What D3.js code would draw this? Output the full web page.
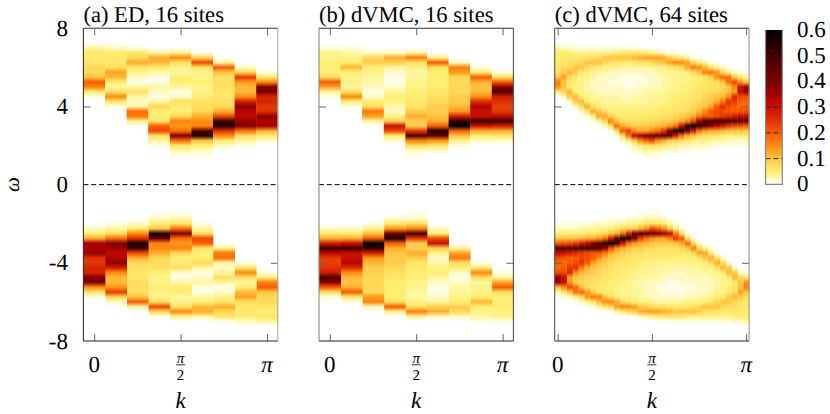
<!DOCTYPE html>
<html><head><meta charset="utf-8">
<script src="https://cdn.jsdelivr.net/npm/d3@7"></script>
<style>
html,body{margin:0;padding:0;background:#fff}
svg{display:block}
text{font-family:"Liberation Serif",serif;fill:#000;text-rendering:geometricPrecision}
</style></head><body>
<svg id="c" width="830" height="414"></svg>
<script>
// energy of each stored row (upper band); lower band is the k -> pi-k, w -> -w image seen in the picture
const omegaRows=[7.25,7,6.75,6.5,6.25,6,5.75,5.5,5.25,5,4.75,4.5,4.25,4,3.75,3.5,3.25,3,2.75,2.5,2.25,2,1.75,1.5,1.25];
// spectral weight x100, one list per k column, top row first, trailing zeros left out
const edSixteen=[
[0,3,6,5,6,8,8,10,20,16,5,1],
[0,2,5,6,6,7,13,11,5,3,7,15,6,1],
[0,1,6,8,12,6,4,2,1,3,7,3,2,3,18,17,4],
[0,0,3,12,11,5,3,1,1,3,2,1,3,8,5,5,6,20,22,7,3,1],
[0,0,4,15,7,4,3,5,5,3,1,2,7,5,5,8,16,14,18,40,18,6,3,1],
[0,0,1,8,22,7,4,4,5,4,4,5,7,7,8,12,15,16,45,55,10,5,2,1],
[0,0,0,0,3,20,10,7,7,7,6,6,7,8,12,22,50,55,25,15,5,2],
[0,0,0,0,0,2,8,24,14,11,11,15,28,38,33,32,36,40,18,7,3,1],
[0,0,0,0,0,0,1,6,15,40,40,27,27,24,25,38,34,35,12,5,2]];
const dvmcSixteen=[
[0,1,4,4,5,5,5,7,20,13,3,1],
[0,1,3,4,5,11,5,4,4,3,7,15,5,1],
[0,0,2,8,9,5,4,3,3,2,1,2,5,7,17,13,3],
[0,0,2,12,9,3,2,1,1,2,3,5,4,3,2,4,9,30,22,5,2],
[0,0,3,16,7,4,3,3,4,4,5,5,6,6,9,12,9,9,24,48,16,7,2,1],
[0,0,0,4,20,7,5,5,5,5,6,7,8,9,9,10,12,20,55,42,14,6,2],
[0,0,0,0,2,16,14,8,8,8,8,9,9,11,14,28,52,60,20,10,4,1],
[0,0,0,0,0,1,5,20,12,10,11,15,26,33,30,30,50,30,12,5,2],
[0,0,0,0,0,0,1,7,20,38,48,28,25,23,24,32,50,28,12,6,2]];
const dvmcSixtyFour=[
[0,3,5,5,6,6,7,10,17,15,5,1],
[0,2,5,6,6,7,9,13,10,10,8,2],
[0,2,5,6,7,8,11,8,6,6,11,9,2],
[0,1,4,6,7,10,9,6,5,4,5,11,9,2],
[0,1,4,6,8,10,6,4,4,4,4,5,11,7,2],
[0,1,4,6,10,8,5,4,3,3,3,4,6,12,6,1],
[0,1,4,7,10,6,4,3,2,2,3,3,4,7,12,4,1],
[0,1,4,7,10,5,3,2,2,2,2,3,4,5,10,12,3],
[0,1,4,9,8,4,3,2,2,2,2,3,3,4,6,13,8,2],
[0,1,4,10,7,4,2,2,1,2,2,3,3,4,5,8,16,7,1],
[0,1,5,10,6,4,2,2,1,2,2,3,3,4,5,6,10,18,6,1],
[0,1,6,10,6,3,2,1,1,2,2,2,3,4,5,6,8,13,20,6,2],
[0,1,6,10,5,3,2,1,1,1,2,2,3,4,5,6,7,10,24,17,4,1],
[0,1,6,11,6,3,2,1,1,1,2,3,3,4,5,6,7,9,16,30,9,3,1],
[0,0,6,12,7,3,2,1,1,2,2,3,3,4,5,6,7,9,13,35,15,5,2],
[0,0,5,13,7,3,2,2,1,2,3,3,3,4,5,6,7,9,13,40,19,6,3,1],
[0,0,4,13,8,4,2,2,2,2,3,3,4,4,5,6,8,10,15,42,22,7,3,1],
[0,0,3,13,9,4,3,2,2,2,3,4,4,4,6,6,8,11,18,44,15,6,3,1],
[0,0,2,12,10,4,3,3,3,3,3,4,4,5,6,7,9,12,24,46,12,5,2,1],
[0,0,1,9,13,5,4,3,3,3,4,4,5,5,6,7,9,14,40,42,9,4,2],
[0,0,1,7,15,6,4,4,4,4,4,5,5,6,7,8,10,18,55,28,8,4,2],
[0,0,0,5,15,8,4,4,4,4,5,5,6,6,7,9,12,30,58,18,7,3,1],
[0,0,0,3,13,12,5,4,4,5,5,6,6,7,8,10,15,52,42,12,6,3,1],
[0,0,0,1,8,16,7,5,5,5,6,6,7,8,9,12,22,58,28,10,5,2,1],
[0,0,0,0,5,15,10,5,5,6,6,7,8,9,11,17,36,55,18,8,4,2,1],
[0,0,0,0,3,11,16,6,6,6,7,8,9,10,15,20,48,44,14,7,4,2],
[0,0,0,0,1,6,17,9,6,7,7,9,10,13,20,20,48,38,12,6,3,2],
[0,0,0,0,0,4,14,14,7,7,8,10,12,20,22,22,50,32,12,6,3,1],
[0,0,0,0,0,2,8,19,10,8,9,11,17,25,22,24,50,28,11,5,3,1],
[0,0,0,0,0,1,4,18,18,9,10,15,25,22,20,26,48,24,10,5,2,1],
[0,0,0,0,0,0,2,10,22,15,13,26,24,20,20,28,46,22,10,5,2,1],
[0,0,0,0,0,0,1,6,15,30,30,22,20,19,21,30,45,21,10,5,2,1],
[0,0,0,0,0,0,0,3,10,36,38,22,19,19,22,32,46,20,9,5,2,1]];
const panelTitles=["(a) ED, 16 sites","(b) dVMC, 16 sites","(c) dVMC, 64 sites"];
const omegaTicks=[8,4,0,-4,-8];
const colourTicks=[0,0.1,0.2,0.3,0.4,0.5,0.6];
const colourStops=[0,0.012,0.03,0.05,0.08,0.11,0.15,0.2,0.25,0.3,0.35,0.4,0.5,0.6];
const colourValues=["#ffffff","#fffde0","#fff6a0","#ffee72","#ffd858","#ffb838","#ff8c10","#f85c00","#e03000","#c81000","#a80000","#800000","#400000","#000000"];

const svg=d3.select("#c");
const defs=svg.append("defs");
const colour=d3.scaleLinear().domain(colourStops).range(colourValues).clamp(true);
const yScale=d3.scaleLinear().domain([8,-8]).range([28.3,341]);
const panelLefts=[83.4,319,554.7], panelWidth=194.4;
const sideColours=[["#333","#aaa"],["#888","#555"],["#555","#999"]];
const kTicks=[0,Math.PI/2,Math.PI];

[edSixteen,dvmcSixteen,dvmcSixtyFour].forEach((matrix,p)=>{
  const left=panelLefts[p], n=matrix.length, half=Math.PI/(n-1)/2;
  const x=d3.scaleLinear().domain([-half,Math.PI+half]).range([left,left+panelWidth]);
  const dk=Math.PI/(n-1);
  const g=svg.append("g");
  const bands=[
    {id:"u",cols:matrix.map((c,i)=>({i,c})),sign:1},
    {id:"l",cols:matrix.map((c,i)=>({i:n-1-i,c})),sign:-1}
  ];
  bands.forEach(b=>{
    const y0=yScale(b.sign*7.5), y1=yScale(b.sign*1);
    const grads=defs.selectAll(null).data(b.cols).enter().append("linearGradient")
      .attr("id",d=>`g${p}${b.id}${d.i}`).attr("gradientUnits","userSpaceOnUse")
      .attr("x1",0).attr("x2",0).attr("y1",y0).attr("y2",y1);
    grads.selectAll("stop").data(d=>omegaRows.map((w,r)=>({w,v:(d.c[r]||0)/100}))).enter().append("stop")
      .attr("offset",d=>(yScale(b.sign*d.w)-y0)/(y1-y0))
      .attr("stop-color",d=>colour(d.v));
    g.selectAll(null).data(b.cols).enter().append("rect")
      .attr("x",d=>x((d.i-0.5)*dk)).attr("width",x(dk)-x(0)+0.4)
      .attr("y",Math.min(y0,y1)).attr("height",Math.abs(y1-y0))
      .attr("fill",d=>`url(#g${p}${b.id}${d.i})`);
  });
  g.append("line").attr("x1",left).attr("x2",left+panelWidth).attr("y1",yScale(0)).attr("y2",yScale(0))
    .attr("stroke","#000").attr("stroke-width",1).attr("stroke-dasharray","5,2.8");
  const tickCol="#666";
  const xb=g.append("g").attr("transform",`translate(0,${yScale(-8)})`)
    .call(d3.axisBottom(x).tickValues(kTicks).tickSize(-7).tickFormat(""));
  const xt=g.append("g").attr("transform",`translate(0,${yScale(8)})`)
    .call(d3.axisTop(x).tickValues(kTicks).tickSize(-7).tickFormat(""));
  const yl=g.append("g").attr("transform",`translate(${left},0)`)
    .call(d3.axisLeft(yScale).tickValues([4,-4]).tickSize(-7).tickFormat(""));
  const yr=g.append("g").attr("transform",`translate(${left+panelWidth},0)`)
    .call(d3.axisRight(yScale).tickValues([4,-4]).tickSize(-7).tickFormat(""));
  [xb,xt,yl,yr].forEach(a=>{a.select(".domain").remove();a.selectAll("line").attr("stroke",tickCol).attr("stroke-width",1);});
  const fr=[[left,yScale(8),left+panelWidth,yScale(8),"#333"],[left,yScale(-8),left+panelWidth,yScale(-8),"#222"],
    [left,yScale(8),left,yScale(-8),sideColours[p][0]],[left+panelWidth,yScale(8),left+panelWidth,yScale(-8),sideColours[p][1]]];
  g.selectAll(null).data(fr).enter().append("line")
    .attr("x1",d=>d[0]).attr("y1",d=>d[1]).attr("x2",d=>d[2]).attr("y2",d=>d[3])
    .attr("stroke",d=>d[4]).attr("stroke-width",1.1);
  g.append("text").attr("x",left).attr("y",21.7).attr("font-size",22.6).text(panelTitles[p]);
  g.append("text").attr("x",x(0)).attr("y",372).attr("text-anchor","middle").attr("font-size",23).text("0");
  g.append("text").attr("x",x(Math.PI/2)).attr("y",362.5).attr("text-anchor","middle").attr("font-size",15).attr("font-style","italic").text("π");
  g.append("line").attr("x1",x(Math.PI/2)-4.5).attr("x2",x(Math.PI/2)+4.5).attr("y1",364.8).attr("y2",364.8).attr("stroke","#000").attr("stroke-width",0.8);
  g.append("text").attr("x",x(Math.PI/2)).attr("y",379.5).attr("text-anchor","middle").attr("font-size",15).text("2");
  g.append("text").attr("x",x(Math.PI)).attr("y",372).attr("text-anchor","middle").attr("font-size",23).attr("font-style","italic").text("π");
  g.append("text").attr("x",x(Math.PI/2)).attr("y",408).attr("text-anchor","middle").attr("font-size",23).attr("font-style","italic").text("k");
});
svg.append("g").selectAll("text").data(omegaTicks).enter().append("text")
  .attr("x",68).attr("y",d=>yScale(d)+7.5).attr("text-anchor","end").attr("font-size",23)
  .text(d=>d);
svg.append("text").attr("transform",`translate(19,${yScale(0)}) rotate(-90)`).attr("text-anchor","middle")
  .attr("font-size",21).attr("font-style","italic").text("ω");
const cb=svg.append("g");
const cbY=d3.scaleLinear().domain([0,0.6]).range([184.3,30]);
const cbX=[765.5,782.3];
cb.selectAll("rect").data(d3.range(0,154)).enter().append("rect")
  .attr("x",cbX[0]).attr("width",cbX[1]-cbX[0])
  .attr("y",d=>30+d).attr("height",1.2)
  .attr("fill",d=>colour(cbY.invert(30+d+0.5)));
cb.selectAll("line.t").data(colourTicks.slice(1,-1)).enter().append("line").attr("class","t")
  .attr("x1",cbX[0]).attr("x2",cbX[1]).attr("y1",d=>cbY(d)).attr("y2",d=>cbY(d))
  .attr("stroke","#222").attr("stroke-width",0.9).attr("stroke-dasharray","5,2.8");
cb.append("path").attr("d",`M${cbX[0]},30V184.3H${cbX[1]}V30`).attr("fill","none").attr("stroke","#888").attr("stroke-width",1.2);
cb.selectAll("text").data(colourTicks).enter().append("text")
  .attr("x",797).attr("y",d=>cbY(d)+7).attr("font-size",23).text(d=>d);
</script></body></html>
